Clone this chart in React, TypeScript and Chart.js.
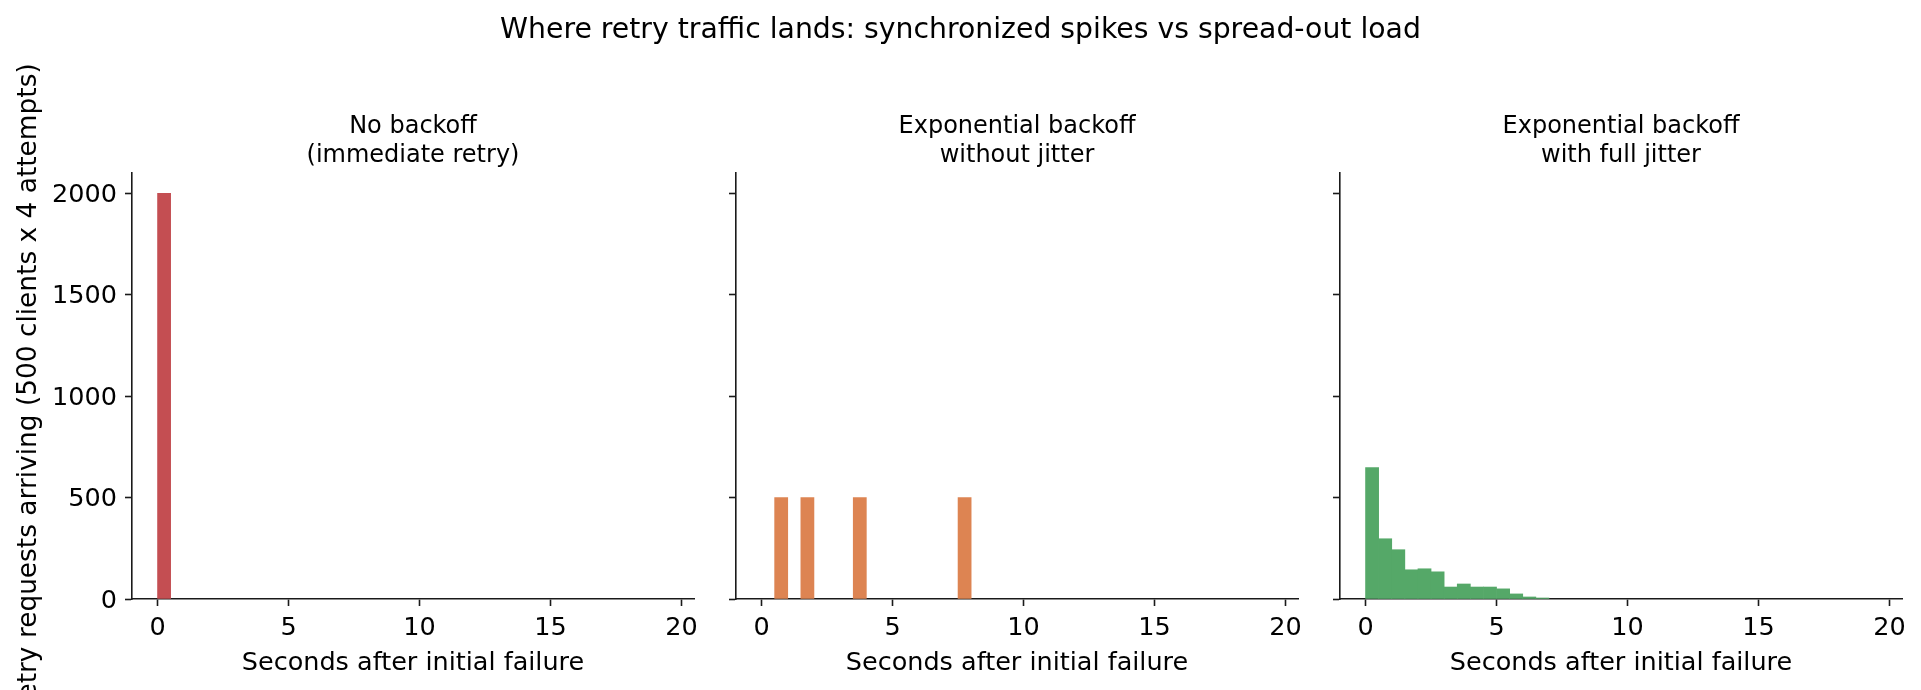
import { useEffect, useRef } from "react"
import { Chart, registerables, type ChartConfiguration, type Plugin } from "chart.js"
Chart.register(...registerables)

const FIG_W = 1921
const FIG_H = 690
const FONT = "'DejaVu Sans', sans-serif"
const INK = "#000000"
const AXIS = "#1a1a1a"

const SUPTITLE = "Where retry traffic lands: synchronized spikes vs spread-out load"
const Y_LABEL = "Retry requests arriving (500 clients x 4 attempts)"
const X_LABEL = "Seconds after initial failure"

const PANEL_TITLES = [
  ["No backoff", "(immediate retry)"],
  ["Exponential backoff", "without jitter"],
  ["Exponential backoff", "with full jitter"],
]

// left edges of the 0.5 s histogram bins
const BIN_WIDTH = 0.5
const BIN_LEFT = [
  0, 0.5, 1, 1.5, 2, 2.5, 3, 3.5, 4, 4.5, 5, 5.5, 6, 6.5, 7, 7.5, 8, 8.5, 9, 9.5,
  10, 10.5, 11, 11.5, 12, 12.5, 13, 13.5, 14, 14.5, 15, 15.5, 16, 16.5, 17, 17.5, 18, 18.5, 19,
]

const NO_BACKOFF = [
  2000, 0, 0, 0, 0, 0, 0, 0, 0, 0, 0, 0, 0, 0, 0, 0, 0, 0, 0, 0,
  0, 0, 0, 0, 0, 0, 0, 0, 0, 0, 0, 0, 0, 0, 0, 0, 0, 0, 0,
]
const NO_JITTER = [
  0, 500, 0, 500, 0, 0, 0, 500, 0, 0, 0, 0, 0, 0, 0, 500, 0, 0, 0, 0,
  0, 0, 0, 0, 0, 0, 0, 0, 0, 0, 0, 0, 0, 0, 0, 0, 0, 0, 0,
]
const FULL_JITTER = [
  648, 297, 243, 144, 149, 134, 59, 74, 59, 59, 50, 25, 10, 5, 0, 0, 0, 0, 0, 0,
  0, 0, 0, 0, 0, 0, 0, 0, 0, 0, 0, 0, 0, 0, 0, 0, 0, 0, 0,
]
const SERIES = [NO_BACKOFF, NO_JITTER, FULL_JITTER]
const COLORS = ["#c44e52", "#dd8452", "#55a868"]

const X_TICKS = [0, 5, 10, 15, 20]
const Y_TICKS = [0, 500, 1000, 1500, 2000]

// axes geometry (pixels in the 1921x690 figure)
const PANEL_LEFT = [132, 736, 1340]
const PANEL_RIGHT = [694, 1298, 1902]
const PLOT_TOP = 173
const PLOT_BOTTOM = 599
const Y_AXIS_W = 40

function figureText(index: number): Plugin<"bar"> {
  return {
    id: "figureText" + index,
    afterDraw(chart) {
      const { ctx, chartArea } = chart
      ctx.save()
      ctx.fillStyle = INK
      ctx.textAlign = "center"
      ctx.textBaseline = "alphabetic"
      ctx.font = `24px ${FONT}`
      const cx = (chartArea.left + chartArea.right) / 2
      PANEL_TITLES[index].forEach((line, i) => ctx.fillText(line, cx, 133 + i * 29))
      if (index === 0) {
        ctx.font = `28.3px ${FONT}`
        ctx.fillText(SUPTITLE, FIG_W / 2, 37.5)
        ctx.translate(29, 390)
        ctx.rotate(-Math.PI / 2)
        ctx.textBaseline = "middle"
        ctx.font = `26.4px ${FONT}`
        ctx.fillText(Y_LABEL, 0, 0)
      }
      ctx.restore()
    },
  }
}

function panelConfig(index: number): ChartConfiguration<"bar"> {
  const yWidth = index === 0 ? PANEL_LEFT[0] : Y_AXIS_W
  const tickFont = { family: FONT, size: 25.5, lineHeight: 1 }
  return {
    type: "bar",
    data: {
      datasets: [
        {
          data: BIN_LEFT.map((l, i) => ({ x: l + BIN_WIDTH / 2, y: SERIES[index][i] })),
          // empty bins stay invisible (no hairline along the axis)
          backgroundColor: (c: any) => (c.raw && c.raw.y > 0 ? COLORS[index] : "rgba(0,0,0,0)"),
          borderWidth: 0,
          barPercentage: 1,
          categoryPercentage: 1,
        },
      ],
    },
    options: {
      responsive: false,
      animation: false,
      devicePixelRatio: 1,
      layout: {
        padding: {
          left: PANEL_LEFT[index] - yWidth,
          right: FIG_W - PANEL_RIGHT[index],
          top: PLOT_TOP,
          bottom: 0,
        },
      },
      plugins: {
        legend: { display: false },
        tooltip: { enabled: false },
      },
      scales: {
        x: {
          type: "linear",
          min: -0.975,
          max: 20.475,
          offset: false,
          grid: { display: true, drawOnChartArea: false, drawTicks: true, tickLength: 7, tickWidth: 1.6, tickColor: AXIS, offset: false },
          border: { display: true, color: AXIS, width: 1.6 },
          ticks: {
            color: INK,
            font: tickFont,
            padding: 10,
            maxRotation: 0,
            autoSkip: false,
            callback: (v) => String(v),
          },
          title: {
            display: true,
            text: X_LABEL,
            color: INK,
            font: { family: FONT, size: 25.5, lineHeight: 1 },
            padding: { top: 0, bottom: 14 },
          },
          afterBuildTicks: (s) => {
            s.ticks = X_TICKS.map((value) => ({ value }))
          },
          afterFit: (s) => {
            s.height = FIG_H - PLOT_BOTTOM
          },
        },
        y: {
          type: "linear",
          min: 0,
          max: 2100,
          grid: { display: true, drawOnChartArea: false, drawTicks: true, tickLength: 7, tickWidth: 1.6, tickColor: AXIS },
          border: { display: true, color: AXIS, width: 1.6 },
          ticks: {
            display: index === 0,
            color: INK,
            font: tickFont,
            padding: 8,
            labelOffset: 2,
            callback: (v) => String(v),
          },
          afterBuildTicks: (s) => {
            s.ticks = Y_TICKS.map((value) => ({ value }))
          },
          afterFit: (s) => {
            s.width = yWidth
          },
        },
      },
    },
    plugins: [figureText(index)],
  }
}

function Panel({ index }: { index: number }) {
  const canvasRef = useRef<HTMLCanvasElement>(null)

  useEffect(() => {
    const canvas = canvasRef.current
    if (!canvas) return
    const chart = new Chart(canvas, panelConfig(index))
    return () => chart.destroy()
  }, [index])

  return (
    <canvas
      ref={canvasRef}
      width={FIG_W}
      height={FIG_H}
      style={{ position: "absolute", left: 0, top: 0, width: FIG_W, height: FIG_H }}
    />
  )
}

export default function App() {
  return (
    <div
      style={{
        position: "absolute",
        left: 0,
        top: 0,
        width: FIG_W,
        height: FIG_H,
        background: "#ffffff",
        overflow: "hidden",
      }}
    >
      {SERIES.map((_, i) => (
        <Panel key={i} index={i} />
      ))}
    </div>
  )
}
